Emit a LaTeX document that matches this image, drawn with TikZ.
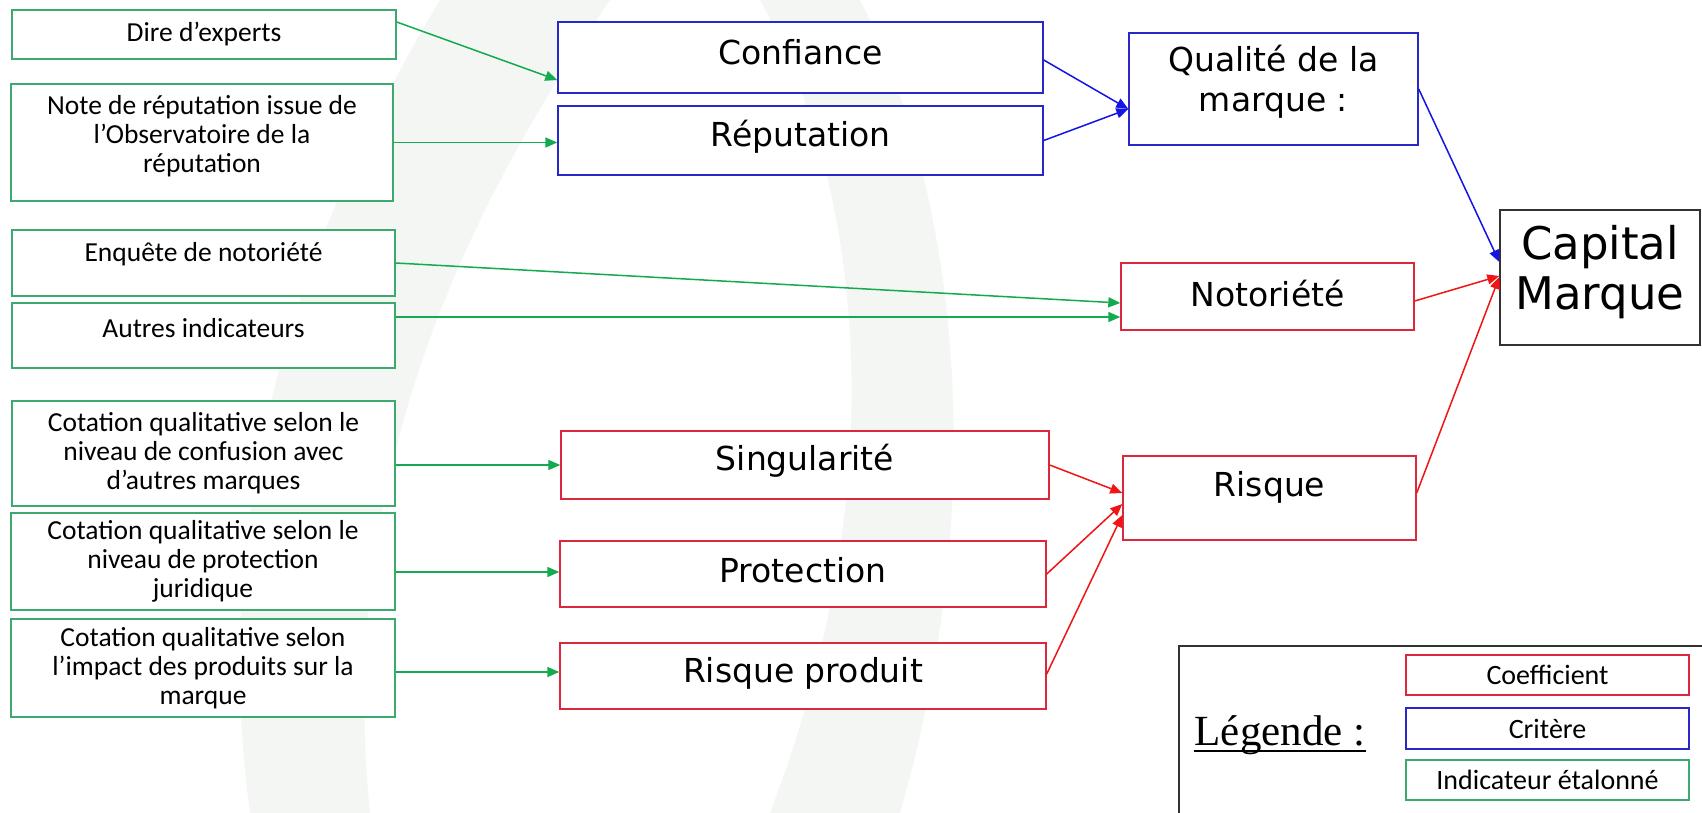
\documentclass[tikz,border=0pt]{standalone}
\usepackage{fontspec}
\setmainfont{DejaVu Sans}
\newfontfamily\calfont{Carlito}
\newfontfamily\dvfont{DejaVu Sans}
\newfontfamily\tmsfont{Liberation Serif}
\usetikzlibrary{arrows.meta,calc}
\definecolor{gbox}{RGB}{60,170,110}
\definecolor{garr}{RGB}{20,170,80}
\definecolor{bbox}{RGB}{40,40,200}
\definecolor{barr}{RGB}{20,20,230}
\definecolor{rbox}{RGB}{220,40,60}
\definecolor{rarr}{RGB}{240,20,20}
\definecolor{kbox}{RGB}{50,50,50}
\definecolor{wmark}{RGB}{244,246,244}
\newcommand\lift[2]{\raisebox{#1}[\height][\depth]{#2}}
\begin{document}
\begin{tikzpicture}[x=1pt,y=-1pt,
  box/.style={draw, line width=1.4pt, fill=white, inner sep=0pt, align=center},
  ind/.style={box, draw=gbox, font=\calfont\fontsize{27.5}{29}\selectfont},
  crit/.style={box, draw=bbox, font=\dvfont\fontsize{33}{40}\selectfont},
  coef/.style={box, draw=rbox, font=\dvfont\fontsize{33}{40}\selectfont},
  capbox/.style={box, draw=kbox, font=\dvfont\fontsize{45}{50}\selectfont},
  legitem/.style={box, line width=1.3pt, font=\calfont\fontsize{28}{30}\selectfont},
  tip/.style={-{Triangle[length=12pt,width=10pt]}},
  garrow/.style={tip, draw=garr, fill=garr, line width=1.5pt},
  barrow/.style={tip, draw=barr, fill=barr, line width=1.5pt},
  rarrow/.style={tip, draw=rarr, fill=rarr, line width=1.5pt}
]
\useasboundingbox (0,0) rectangle (1702,813);
\fill[white] (0,0) rectangle (1702,813);
% watermark
\fill[wmark] (440,0) .. controls (290,250) and (210,520) .. (250,813)
  -- (370,813) .. controls (340,520) and (430,260) .. (610,0) -- cycle;
\fill[wmark] (760,0) .. controls (870,200) and (890,500) .. (770,813)
  -- (900,813) .. controls (990,500) and (960,200) .. (860,0) -- cycle;

% indicators (green)
\node[ind, minimum width=384pt, minimum height=49pt] (dire) at (204,34.5) {Dire d’experts};
\node[ind, minimum width=382pt, minimum height=117pt] (note) at (202,142.5)
  {Note de réputation issue de\\l’Observatoire de la\\réputation\rule[-18pt]{0pt}{0pt}};
\node[ind, minimum width=383pt, minimum height=66pt] (enq) at (203.5,263) {\lift{9pt}{Enquête de notoriété}};
\node[ind, minimum width=383pt, minimum height=65pt] (autres) at (203.5,335.5) {\lift{7.5pt}{Autres indicateurs}};
\node[ind, minimum width=383pt, minimum height=105pt] (cot1) at (203.5,453.5)
  {Cotation qualitative selon le\\niveau de confusion avec\\d’autres marques};
\node[ind, minimum width=384pt, minimum height=97pt] (cot2) at (203,561.5)
  {Cotation qualitative selon le\\niveau de protection\\juridique};
\node[ind, minimum width=384pt, minimum height=98pt] (cot3) at (203,668)
  {Cotation qualitative selon\\l’impact des produits sur la\\marque};

% criteria (blue)
\node[crit, minimum width=485pt, minimum height=71pt] (conf) at (800.5,57.5) {\lift{5.5pt}{Confiance}};
\node[crit, minimum width=485pt, minimum height=69pt] (rep) at (800.5,140.5) {\lift{3.5pt}{Réputation}};
\node[crit, minimum width=289pt, minimum height=112pt] (qual) at (1273.5,89)
  {Qualité de la\\marque :\rule[-22pt]{0pt}{0pt}};

% coefficients (red)
\node[coef, minimum width=293pt, minimum height=67pt] (noto) at (1267.5,296.5) {\lift{2.5pt}{Notoriété}};
\node[coef, minimum width=488pt, minimum height=68pt] (sing) at (805,465) {\lift{4pt}{Singularité}};
\node[coef, minimum width=486pt, minimum height=66pt] (prot) at (803,574) {\lift{4pt}{Protection}};
\node[coef, minimum width=486pt, minimum height=66pt] (rp) at (803,676) {\lift{3pt}{Risque produit}};
\node[coef, minimum width=293pt, minimum height=84pt] (risque) at (1269.5,498) {\lift{11pt}{Risque}};

% final
\node[capbox, minimum width=200pt, minimum height=135pt] (cap) at (1600,277.5)
  {Capital\\Marque\rule[-20pt]{0pt}{0pt}};

% connectors
\draw[garrow] ([yshift=12.5pt]dire.east) -- ([yshift=-22.5pt]conf.west);
\draw[garrow] (note.east) -- (note.east -| rep.west);
\draw[garrow] (enq.east) -- ([yshift=-6.5pt]noto.west);
\draw[garrow] ([yshift=18.5pt]autres.east) -- ([yshift=-20.5pt]noto.west);
\draw[garrow] ([yshift=-11.5pt]cot1.east) -- (sing.west);
\draw[garrow] ([yshift=-10.5pt]cot2.east) -- ([yshift=2pt]prot.west);
\draw[garrow] ([yshift=-4pt]cot3.east) -- ([yshift=4pt]rp.west);

\draw[barrow] ([yshift=-2.5pt]conf.east) -- ([yshift=-20pt]qual.west);
\draw[barrow] (rep.east) -- ([yshift=-20pt]qual.west);
\draw[barrow] (qual.east) -- ([yshift=15.5pt]cap.west);

\draw[rarrow] ([yshift=-4.5pt]noto.east) -- ([yshift=1.5pt]cap.west);
\draw[rarrow] ([yshift=5pt]risque.east) -- ([yshift=0.5pt]cap.west);
\draw[rarrow] (sing.east) -- ([yshift=5pt]risque.west);
\draw[rarrow] (prot.east) -- ([yshift=-6pt]risque.west);
\draw[rarrow] ([yshift=2pt]rp.east) -- ([yshift=-17pt]risque.west);

% legend
\draw[kbox, line width=1.6pt] (1179,813) -- (1179,646) -- (1702,646);
\node[font=\tmsfont\fontsize{43}{45}\selectfont, inner sep=0pt, anchor=base] (leg) at (1280,745) {Légende :};
\draw[black, line width=1.4pt] ([yshift=-6pt]leg.base west) -- ([yshift=-6pt]leg.base east);
\node[legitem, draw=rbox, minimum width=283pt, minimum height=40pt] (lcoef) at (1547.5,675) {Coefficient};
\node[legitem, draw=bbox, minimum width=283pt, minimum height=41pt] (lcrit) at (1547.5,728.5) {Critère};
\node[legitem, draw=gbox, minimum width=283pt, minimum height=40pt] (lind) at (1547.5,780) {Indicateur étalonné};
\end{tikzpicture}
\end{document}
